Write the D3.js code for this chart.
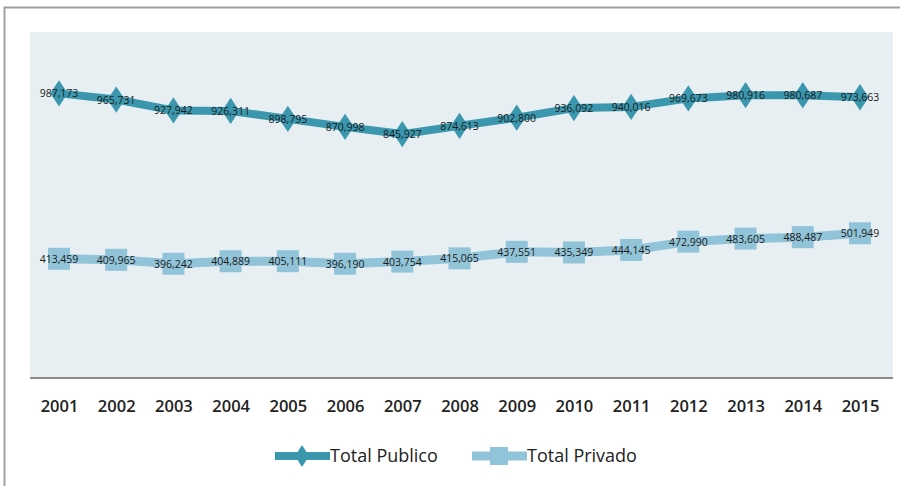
<!DOCTYPE html>
<html><head><meta charset="utf-8">
<script src="https://cdnjs.cloudflare.com/ajax/libs/d3/7.8.5/d3.min.js"></script>
<style>body{margin:0;background:#fff;}svg{display:block;}</style>
</head><body><svg id="c" width="900" height="486"></svg>
<script>
const years = ["2001","2002","2003","2004","2005","2006","2007","2008","2009","2010","2011","2012","2013","2014","2015"];
const publico = [987173,965731,927942,926311,898795,870998,845927,874613,902800,936092,940016,969673,980916,980687,973663];
const privado = [413459,409965,396242,404889,405111,396190,403754,415065,437551,435349,444145,472990,483605,488487,501949];
const seriesNames = ["Total Publico","Total Privado"];

const svg = d3.select("#c");
svg.append("path").attr("d","M4.5,486 V7.5 H900").attr("fill","none").attr("stroke","#a0a0a0").attr("stroke-width",2);
const L=30,R=893,T=32,B=378;
svg.append("rect").attr("x",L).attr("y",T).attr("width",R-L).attr("height",B-T).attr("fill","#e8eff3");
const x = d3.scalePoint().domain(years).range([59,860]);
const y = d3.scaleLinear().domain([0,1200000]).range([B,T]);
const fmt = d3.format(",");
const ax = svg.append("g").attr("transform",`translate(0,${B})`).call(d3.axisBottom(x).tickSize(0).tickPadding(22));
ax.select(".domain").remove();
svg.append("line").attr("x1",L).attr("x2",R).attr("y1",B).attr("y2",B).attr("stroke","#8a8a8a").attr("stroke-width",2);
ax.selectAll("text").attr("font-family","Open Sans, sans-serif").attr("font-size",16.5).attr("font-weight",600).attr("fill","#222");

const line = d3.line().x((d,i)=>x(years[i])).y(d=>y(d));
const cols = ["#3a97ae","#91c4d8"];
svg.append("path").datum(publico).attr("d",line).attr("fill","none").attr("stroke",cols[0]).attr("stroke-width",8);
svg.selectAll(".dm").data(publico).enter().append("path")
  .attr("d",d3.symbol().type(d3.symbolDiamond).size(200))
  .attr("transform",(d,i)=>`translate(${x(years[i])},${y(d)}) scale(1.15,1.0)`).attr("fill",cols[0]);
svg.append("path").datum(privado).attr("d",line).attr("fill","none").attr("stroke",cols[1]).attr("stroke-width",9);
svg.selectAll(".sq").data(privado).enter().append("rect")
  .attr("x",(d,i)=>x(years[i])-11).attr("y",d=>y(d)-11).attr("width",22).attr("height",22).attr("fill",cols[1]);

function labels(data){
  svg.append("g").selectAll("text").data(data).enter().append("text")
   .attr("x",(d,i)=>x(years[i])).attr("y",d=>y(d)+4)
   .attr("text-anchor","middle").attr("font-family","Open Sans, sans-serif").attr("font-size",10.5)
   .attr("fill","#1a1a1a").text(d=>fmt(d));
}
labels(publico); labels(privado);

const lg = svg.append("g");
const lx=[275,472];
seriesNames.forEach((n,i)=>{
  lg.append("line").attr("x1",lx[i]).attr("x2",lx[i]+55).attr("y1",456).attr("y2",456).attr("stroke",cols[i]).attr("stroke-width",i?9:8);
  if(i===0) lg.append("path").attr("d",d3.symbol().type(d3.symbolDiamond).size(140)).attr("transform",`translate(${lx[i]+27},456) scale(1.1,1)`).attr("fill",cols[0]);
  else lg.append("rect").attr("x",lx[i]+18).attr("y",447).attr("width",18).attr("height",18).attr("fill",cols[1]);
  lg.append("text").attr("x",lx[i]+55).attr("y",462).attr("font-family","Open Sans, sans-serif").attr("font-size",18).attr("font-weight",500).attr("fill","#222").text(n);
});
</script></body></html>
